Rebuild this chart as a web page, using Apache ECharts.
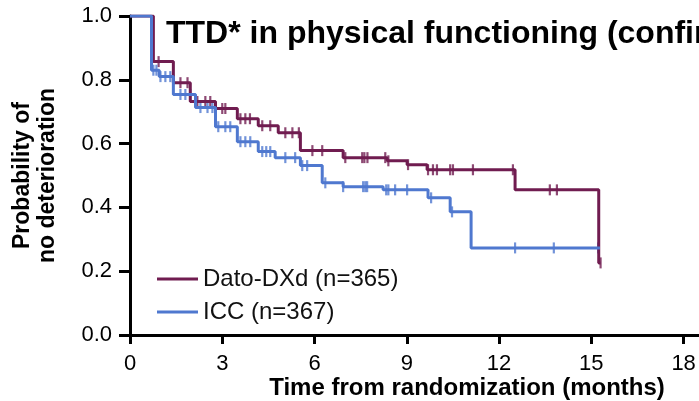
<!DOCTYPE html>
<html>
<head>
<meta charset="utf-8">
<script src="https://cdn.jsdelivr.net/npm/echarts@6/dist/echarts.min.js"></script>
<style>
  html, body { margin: 0; padding: 0; background: #fff; }
  #main { width: 699px; height: 401px; }
</style>
</head>
<body>
<div id="main"></div>
<script type="text/javascript">
    // KM 曲线数据
    var datoTimes = [0, 0.76, 1.41, 1.96, 2.78, 3.49, 4.17, 4.82, 5.54, 6.93, 8.36, 9.01, 9.66, 12.52, 15.24, 15.30];
    var datoSurv  = [1.0, 0.857, 0.791, 0.732, 0.710, 0.678, 0.656, 0.634, 0.578, 0.556, 0.546, 0.534, 0.518, 0.455, 0.226, 0.226];
    var iccTimes  = [0, 0.70, 0.95, 1.41, 2.13, 2.78, 3.49, 4.17, 4.72, 5.54, 6.25, 6.93, 8.23, 9.69, 10.41, 11.09, 15.28];
    var iccSurv   = [1.0, 0.83, 0.81, 0.754, 0.713, 0.653, 0.606, 0.575, 0.556, 0.531, 0.477, 0.465, 0.455, 0.430, 0.386, 0.273, 0.273];

    // 删失标记时间
    var datoCensor = [0.93, 1.64, 1.87, 2.19, 2.45, 2.61, 3.0, 3.1, 3.59, 3.75, 3.9, 4.3, 4.56, 5.05, 5.28, 5.49,
                      5.93, 6.25, 7.0, 7.55, 7.62, 7.72, 8.30, 8.40, 9.04, 9.69, 9.85, 9.98, 10.41, 10.50, 11.15,
                      12.45, 13.65, 13.88, 15.30];
    var iccCensor  = [0.76, 0.86, 0.99, 1.15, 1.31, 1.64, 1.8, 1.96, 2.29, 2.52, 2.68, 2.87, 3.1, 3.26, 3.59, 3.75,
                      3.91, 4.3, 4.43, 4.56, 5.05, 5.37, 5.6, 5.76, 6.35, 6.93, 7.58, 7.65, 7.71, 8.33, 8.40, 8.62,
                      9.01, 9.79, 10.47, 12.52, 13.78, 15.22];

    var xTicks = [0, 3, 6, 9, 12, 15, 18];
    var seriesNames = ['Dato-DXd (n=365)', 'ICC (n=367)'];
    var colors = ['#701c50', '#4f78cf'];

    function pairs(ts, ys) {
        return ts.map(function (t, i) { return [t, ys[i]]; });
    }
    // 删失点落在阶梯函数上
    function stepAt(ts, ys, t) {
        var v = ys[0];
        for (var i = 0; i < ts.length; i++) {
            if (ts[i] <= t) v = ys[i];
        }
        return v;
    }
    function censorPts(cs, ts, ys) {
        return cs.map(function (t) { return [t, stepAt(ts, ys, t)]; });
    }

    var FONT = 'Liberation Sans, Arial, sans-serif';
    var myChart = echarts.init(document.getElementById('main'));
    var option = {
        animation: false,
        title: {
            text: 'TTD* in physical functioning (confirmed)',
            left: 161,
            top: 13,
            textStyle: { fontSize: 32, fontWeight: 'bold', color: '#000', fontFamily: FONT }
        },
        legend: {
            data: seriesNames,
            orient: 'vertical',
            left: 152,
            top: 262,
            itemWidth: 41,
            itemHeight: 3,
            itemGap: 9,
            icon: 'rect',
            textStyle: { fontSize: 24, color: '#111', fontFamily: FONT }
        },
        grid: { left: 130, right: 0, top: 16, bottom: 66 },
        xAxis: {
            type: 'value',
            min: 0,
            max: 18.5,
            axisLine: { lineStyle: { color: '#000', width: 3 } },
            axisTick: { show: true, length: 9, lineStyle: { color: '#000', width: 3 }, customValues: xTicks },
            axisLabel: { fontSize: 22, color: '#000', fontFamily: FONT, margin: 18, customValues: xTicks },
            splitLine: { show: false }
        },
        yAxis: {
            type: 'value',
            min: 0,
            max: 1,
            interval: 0.2,
            name: 'Probability of\nno deterioration',
            nameLocation: 'middle',
            nameRotate: 90,
            nameGap: 70,
            nameTextStyle: { fontSize: 23, fontWeight: 'bold', color: '#000', fontFamily: FONT, lineHeight: 25 },
            axisLine: { show: true, lineStyle: { color: '#000', width: 3 } },
            axisTick: { show: true, length: 11, lineStyle: { color: '#000', width: 3 } },
            axisLabel: {
                fontSize: 22, color: '#000', fontFamily: FONT, margin: 18,
                formatter: function (v) { return v.toFixed(1); }
            },
            splitLine: { show: false }
        },
        graphic: [{
            type: 'text',
            style: {
                text: 'Time from randomization (months)',
                x: 467, y: 388,
                textAlign: 'center', textVerticalAlign: 'middle',
                font: 'bold 24px ' + FONT, fill: '#000'
            }
        }],
        series: [
            {
                name: seriesNames[0], type: 'line', step: 'end', showSymbol: false,
                data: pairs(datoTimes, datoSurv),
                itemStyle: { color: colors[0] },
                lineStyle: { color: colors[0], width: 3 }
            },
            {
                name: seriesNames[1], type: 'line', step: 'end', showSymbol: false,
                data: pairs(iccTimes, iccSurv),
                itemStyle: { color: colors[1] },
                lineStyle: { color: colors[1], width: 3 }
            },
            {
                name: 'dato-censor', type: 'scatter', symbol: 'rect', symbolSize: [2.2, 11],
                data: censorPts(datoCensor, datoTimes, datoSurv),
                itemStyle: { color: colors[0] }
            },
            {
                name: 'icc-censor', type: 'scatter', symbol: 'rect', symbolSize: [2.2, 11],
                data: censorPts(iccCensor, iccTimes, iccSurv),
                itemStyle: { color: colors[1] }
            }
        ]
    };
    myChart.setOption(option);
</script>
</body>
</html>
